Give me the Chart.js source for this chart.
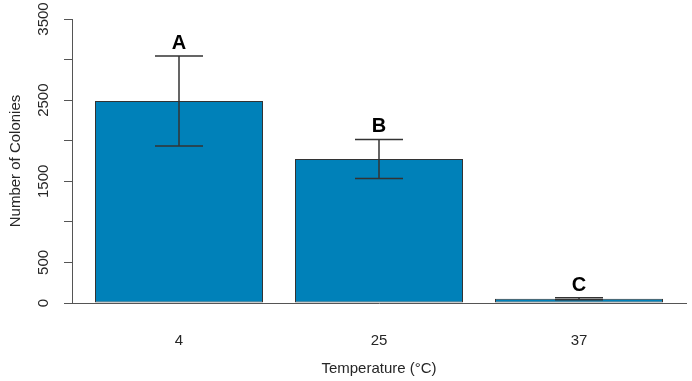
<!DOCTYPE html>
<html>
<head>
<meta charset="utf-8">
<title>Number of Colonies by Temperature</title>
<script src="https://cdn.jsdelivr.net/npm/chart.js@4/dist/chart.umd.min.js"></script>
<style>
  html, body { margin: 0; padding: 0; background: #fff; }
  #wrap { width: 692px; height: 381px; position: relative; }
</style>
</head>
<body>
<div id="wrap"><canvas id="grafico"></canvas></div>
<script>
// data
const temps = ['4', '25', '37'];
const means = [2490, 1775, 52];
const sds = [555, 240, 13];
const letters = ['A', 'B', 'C'];
const yTicks = [0, 500, 1000, 1500, 2000, 2500, 3000, 3500];
const yLabelled = [0, 500, 1500, 2500, 3500];

const FONT = "'Liberation Sans', Arial, sans-serif";
const TEXT = '#262626';
const AXIS = '#555555';

// error bars + letters on top of the bars
const errorBars = {
    id: 'errorBars',
    afterDatasetsDraw(chart) {
        const ctx = chart.ctx;
        const xs = chart.scales.x;
        const ys = chart.scales.y;
        ctx.save();
        ctx.strokeStyle = '#333';
        ctx.lineWidth = 1.5;
        means.forEach((m, i) => {
            const x = xs.getPixelForValue(i);
            const top = ys.getPixelForValue(m + sds[i]);
            const bot = ys.getPixelForValue(m - sds[i]);
            ctx.beginPath();
            ctx.moveTo(x, top); ctx.lineTo(x, bot);
            ctx.moveTo(x - 24, top); ctx.lineTo(x + 24, top);
            ctx.moveTo(x - 24, bot); ctx.lineTo(x + 24, bot);
            ctx.stroke();
            ctx.fillStyle = '#000';
            ctx.font = 'bold 20px ' + FONT;
            ctx.textAlign = 'center';
            ctx.textBaseline = 'alphabetic';
            ctx.fillText(letters[i], x, top - 7);
        });
        ctx.restore();
    }
};

const ctx = document.getElementById('grafico').getContext('2d');
new Chart(ctx, {
    type: 'bar',
    data: {
        datasets: [{
            label: 'Number of Colonies',
            data: means.map((m, i) => ({ x: i, y: m })),
            backgroundColor: '#0081b9',
            borderColor: '#333333',
            borderWidth: 1,
            borderSkipped: false,
            barPercentage: 0.84,
            categoryPercentage: 1
        }]
    },
    options: {
        responsive: true,
        maintainAspectRatio: false,
        animation: false,
        layout: { padding: { top: 19, right: 6, left: 0, bottom: 0 } },
        plugins: {
            legend: { display: false },
            tooltip: { enabled: false }
        },
        scales: {
            x: {
                type: 'linear',
                offset: false,
                min: -0.535,
                max: 2.535,
                afterFit: (s) => { s.height = 78; },
                grid: { display: false },
                border: { display: true, color: AXIS, width: 1 },
                ticks: {
                    stepSize: 1,
                    includeBounds: false,
                    padding: 21,
                    color: TEXT,
                    font: { family: FONT, size: 15 },
                    callback: (v) => Number.isInteger(v) && temps[v] !== undefined ? temps[v] : ''
                },
                title: {
                    display: true,
                    text: 'Temperature (°C)',
                    color: TEXT,
                    font: { family: FONT, size: 15 },
                    padding: { top: 0, bottom: 3 }
                }
            },
            y: {
                min: 0,
                max: 3500,
                afterFit: (s) => { s.width = 72; },
                afterBuildTicks: (s) => { s.ticks = yTicks.map(v => ({ value: v })); },
                grid: {
                    display: true,
                    drawOnChartArea: false,
                    drawTicks: true,
                    tickLength: 8,
                    color: AXIS
                },
                border: { display: true, color: AXIS, width: 1 },
                ticks: {
                    minRotation: 90,
                    maxRotation: 90,
                    crossAlign: 'center',
                    padding: 3,
                    color: TEXT,
                    font: { family: FONT, size: 15 },
                    callback: (v) => yLabelled.includes(v) ? String(v) : ''
                },
                title: {
                    display: true,
                    text: 'Number of Colonies',
                    color: TEXT,
                    font: { family: FONT, size: 15 },
                    padding: { top: 7, bottom: 0 }
                }
            }
        }
    },
    plugins: [errorBars]
});
</script>
</body>
</html>
